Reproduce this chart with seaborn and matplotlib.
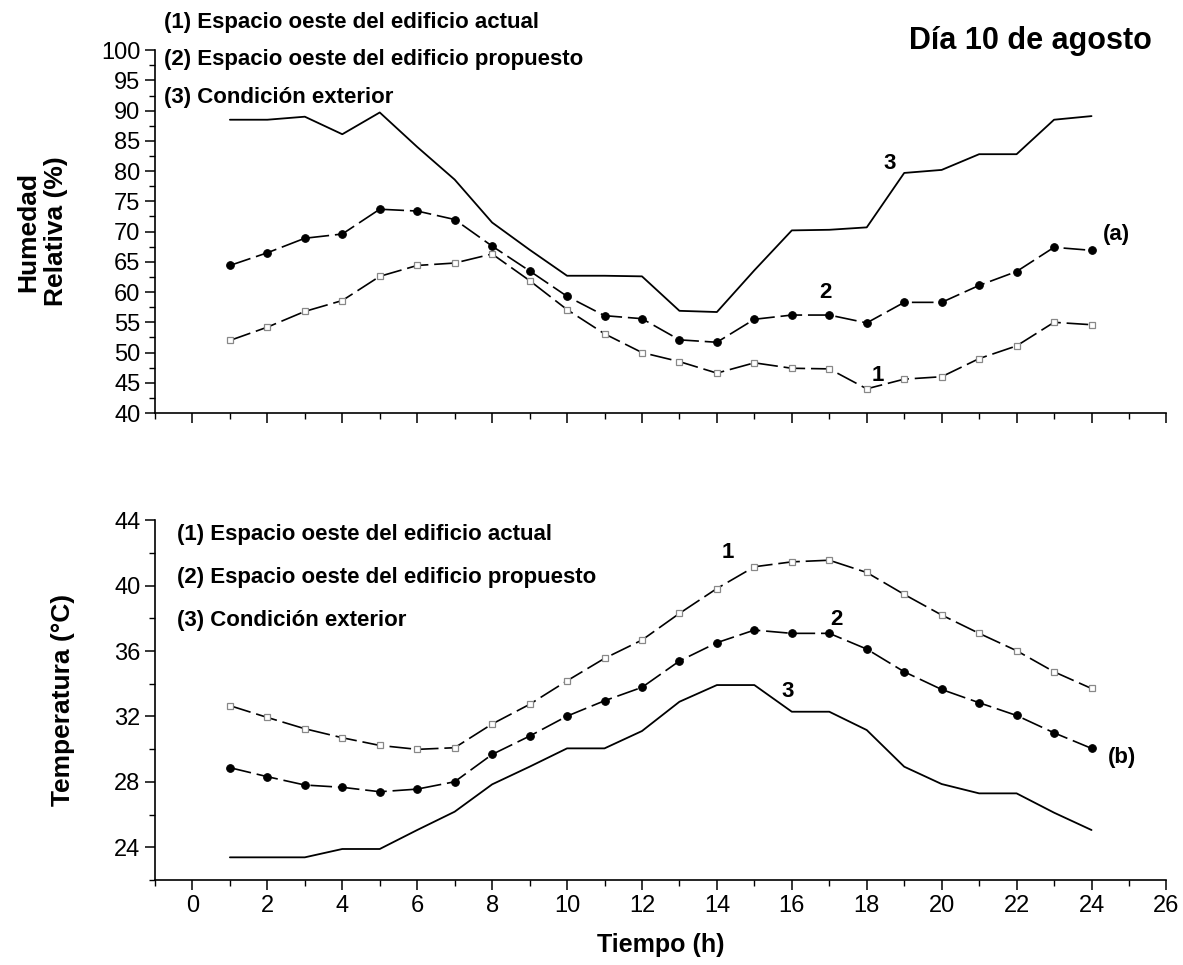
import numpy as np
import pandas as pd
import matplotlib
matplotlib.use("Agg")
import matplotlib.pyplot as plt
from matplotlib.ticker import MultipleLocator
import seaborn as sns

# data (hour 1..24)
hours = list(range(1, 25))

hr_actual = [52.0, 54.2, 56.8, 58.6, 62.6, 64.4, 64.8, 66.3, 61.9, 57.1, 53.1, 50.0,
             48.5, 46.6, 48.3, 47.4, 47.3, 44.0, 45.6, 46.0, 49.0, 51.1, 55.0, 54.6]
hr_propuesto = [64.4, 66.5, 68.9, 69.6, 73.7, 73.4, 72.0, 67.6, 63.5, 59.3, 56.1, 55.6,
                52.1, 51.7, 55.5, 56.2, 56.2, 54.9, 58.3, 58.3, 61.1, 63.4, 67.4, 66.9]
hr_exterior = [88.5, 88.5, 89.0, 86.1, 89.7, 84.0, 78.6, 71.5, 67.0, 62.7, 62.7, 62.6,
               56.9, 56.7, 63.6, 70.2, 70.3, 70.7, 79.7, 80.2, 82.8, 82.8, 88.5, 89.1]

t_actual = [32.66, 31.94, 31.25, 30.70, 30.23, 29.99, 30.09, 31.54, 32.74, 34.18, 35.55, 36.67,
            38.30, 39.82, 41.15, 41.45, 41.55, 40.80, 39.46, 38.20, 37.08, 36.02, 34.73, 33.71]
t_propuesto = [28.87, 28.32, 27.81, 27.67, 27.40, 27.56, 28.01, 29.68, 30.80, 32.02, 32.96, 33.78,
               35.39, 36.51, 37.28, 37.08, 37.08, 36.12, 34.73, 33.65, 32.84, 32.06, 31.00, 30.05]
t_exterior = [23.39, 23.39, 23.39, 23.90, 23.90, 25.06, 26.18, 27.85, 28.93, 30.05, 30.05, 31.11,
              32.90, 33.92, 33.92, 32.29, 32.29, 31.17, 28.93, 27.87, 27.30, 27.30, 26.12, 25.06]

legend_lines = ["(1) Espacio oeste del edificio actual",
                "(2) Espacio oeste del edificio propuesto",
                "(3) Condición exterior"]

sns.set_style("ticks")
plt.rcParams['font.family'] = ['Liberation Sans', 'DejaVu Sans']
plt.rcParams['axes.linewidth'] = 1.2
for key in ['text.color', 'axes.labelcolor', 'xtick.color', 'ytick.color', 'axes.edgecolor']:
    plt.rcParams[key] = 'black'

fig = plt.figure(figsize=(11.83, 9.65), dpi=100)
ax1 = fig.add_axes([0.131, 0.572, 0.855, 0.376])
ax2 = fig.add_axes([0.131, 0.088, 0.855, 0.373])


def draw_series(ax, actual, propuesto, exterior):
    df = pd.DataFrame({"h": hours, "a": actual, "p": propuesto, "e": exterior})
    sns.lineplot(data=df, x="h", y="e", ax=ax, color="black", linewidth=1.3)
    sns.lineplot(data=df, x="h", y="p", ax=ax, color="black", linewidth=1.2,
                 marker="o", markersize=5.5, markeredgecolor="black")
    sns.lineplot(data=df, x="h", y="a", ax=ax, color="black", linewidth=1.2,
                 marker="s", markersize=4.5, markerfacecolor="white",
                 markeredgecolor="#888888", markeredgewidth=0.9)
    # long dashes for series 1 and 2
    ax.lines[1].set_dashes((13, 3.5))
    ax.lines[2].set_dashes((13, 3.5))


draw_series(ax1, hr_actual, hr_propuesto, hr_exterior)
draw_series(ax2, t_actual, t_propuesto, t_exterior)

for ax in (ax1, ax2):
    sns.despine(ax=ax)
    ax.set_xlim(-1, 26)
    ax.xaxis.set_major_locator(MultipleLocator(2))
    ax.xaxis.set_minor_locator(MultipleLocator(1))
    ax.tick_params(which="major", length=7, width=1.1, labelsize=17)
    ax.tick_params(which="minor", length=4, width=1.0)
    ax.set_xlabel("")
    ax.set_ylabel("")

# top panel: relative humidity
ax1.set_ylim(40, 100)
ax1.yaxis.set_major_locator(MultipleLocator(5))
ax1.yaxis.set_minor_locator(MultipleLocator(2.5))
ax1.tick_params(axis="x", labelbottom=False)
ax1.set_ylabel("Humedad\nRelativa (%)", fontsize=19, fontweight="bold", labelpad=24)

for i, txt in enumerate(legend_lines):
    fig.text(0.139, 0.977 - i * 0.039, txt, fontsize=16, fontweight="bold", va="center")
fig.text(0.974, 0.957, "Día 10 de agosto", fontsize=22, fontweight="bold",
         ha="right", va="center")

ax1.text(18.6, 81.3, "3", fontsize=16, fontweight="bold", ha="center", va="center")
ax1.text(16.9, 60.0, "2", fontsize=16, fontweight="bold", ha="center", va="center")
ax1.text(18.3, 46.2, "1", fontsize=16, fontweight="bold", ha="center", va="center")
ax1.text(24.3, 69.5, "(a)", fontsize=16, fontweight="bold", ha="left", va="center")

# bottom panel: temperature
ax2.set_ylim(22, 44)
ax2.yaxis.set_major_locator(MultipleLocator(4))
ax2.yaxis.set_minor_locator(MultipleLocator(2))
ax2.set_ylabel("Temperatura (°C)", fontsize=19, fontweight="bold", labelpad=28)
ax2.set_xlabel("Tiempo (h)", fontsize=18, fontweight="bold", labelpad=12)

for i, txt in enumerate(legend_lines):
    ax2.text(0.022, 0.96 - i * 0.12, txt, transform=ax2.transAxes,
             fontsize=16, fontweight="bold", va="center")

ax2.text(14.3, 42.0, "1", fontsize=16, fontweight="bold", ha="center", va="center")
ax2.text(17.2, 37.9, "2", fontsize=16, fontweight="bold", ha="center", va="center")
ax2.text(15.9, 33.5, "3", fontsize=16, fontweight="bold", ha="center", va="center")
ax2.text(24.45, 29.5, "(b)", fontsize=16, fontweight="bold", ha="left", va="center")

fig.savefig("out.png", dpi=100)
